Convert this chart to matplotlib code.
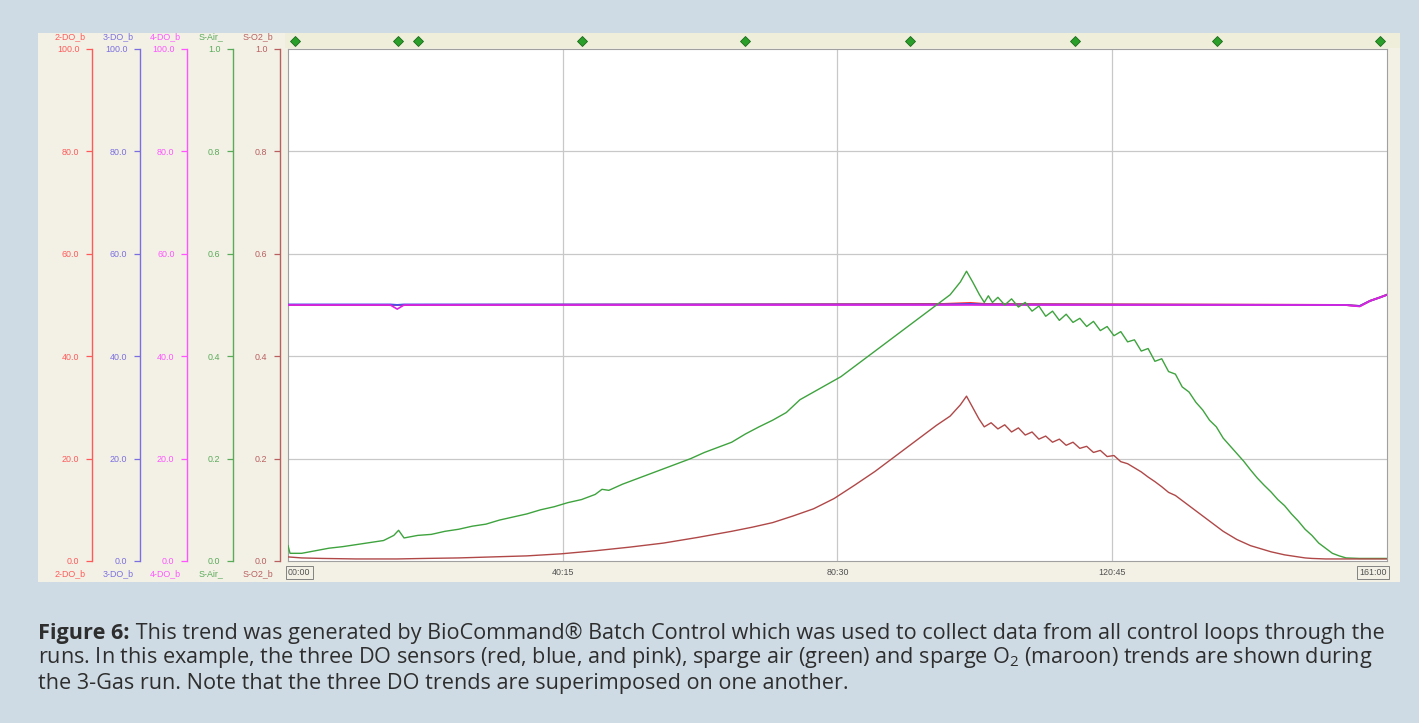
import matplotlib
matplotlib.use("Agg")
import matplotlib.pyplot as plt
from matplotlib.patches import Rectangle
import numpy as np

plt.rcParams['mathtext.fontset'] = 'custom'
plt.rcParams['mathtext.rm'] = 'Open Sans'

# Run time in minutes, sparge air (S-Air_) as a 0-1 fraction
air_t = [0.0, 0.3, 2, 4, 6, 8, 10, 12, 14, 15.5, 16.2, 17, 19, 21, 23, 25, 27, 29, 31, 33,
         35, 37, 39, 41, 43, 45, 46, 47, 49, 51, 53, 55, 57, 59, 61, 63, 65, 67, 69, 71,
         73, 75, 77, 79, 81, 83, 85, 87, 89, 91, 93, 95, 97, 98.5, 99.4, 100.3, 101.3, 102,
         102.6, 103.2, 104, 105, 106, 107, 108, 109, 110, 111, 112, 113, 114, 115, 116, 117,
         118, 119, 120, 121, 122, 123, 124, 125, 126, 127, 128, 129, 130, 131, 132, 133, 134,
         135, 136, 137, 138, 139, 140, 141, 142, 143, 144, 145, 146, 147, 148, 149, 150, 151,
         152, 153, 154, 155, 157, 161]
air_v = [0.03, 0.015, 0.015, 0.02, 0.025, 0.028, 0.032, 0.036, 0.04, 0.05, 0.06, 0.045, 0.05,
         0.052, 0.058, 0.062, 0.068, 0.072, 0.08, 0.086, 0.092, 0.1, 0.106, 0.114, 0.12, 0.13,
         0.14, 0.138, 0.15, 0.16, 0.17, 0.18, 0.19, 0.2, 0.212, 0.222, 0.232, 0.248, 0.262,
         0.275, 0.29, 0.315, 0.33, 0.345, 0.36, 0.38, 0.4, 0.42, 0.44, 0.46, 0.48, 0.5, 0.52,
         0.545, 0.566, 0.545, 0.52, 0.505, 0.518, 0.505, 0.515, 0.5, 0.512, 0.496, 0.505,
         0.488, 0.498, 0.478, 0.488, 0.47, 0.482, 0.466, 0.474, 0.458, 0.468, 0.45, 0.458,
         0.44, 0.448, 0.428, 0.432, 0.41, 0.415, 0.39, 0.395, 0.37, 0.365, 0.34, 0.33, 0.31,
         0.295, 0.275, 0.262, 0.24, 0.225, 0.21, 0.195, 0.178, 0.162, 0.148, 0.135, 0.12,
         0.108, 0.092, 0.078, 0.062, 0.05, 0.035, 0.025, 0.015, 0.01, 0.006, 0.005, 0.005]

# Sparge O2 (S-O2_b) as a 0-1 fraction
o2_t = [0, 2, 5, 10, 16, 20, 25, 30, 35, 40, 45, 50, 55, 60, 65, 68, 71, 74, 77, 80, 83, 86,
        89, 92, 95, 97, 98.5, 99.4, 100.3, 101.2, 102, 103, 104, 105, 106, 107, 108, 109, 110,
        111, 112, 113, 114, 115, 116, 117, 118, 119, 120, 121, 122, 123, 124, 125, 126, 127,
        128, 129, 130, 131, 132, 133, 134, 135, 136, 137, 138, 139, 140, 141, 142, 143, 144,
        145, 146, 147, 148, 149, 150, 152, 161]
o2_v = [0.008, 0.006, 0.005, 0.004, 0.004, 0.005, 0.006, 0.008, 0.01, 0.014, 0.02, 0.027,
        0.035, 0.046, 0.058, 0.066, 0.075, 0.088, 0.102, 0.122, 0.148, 0.175, 0.205, 0.235,
        0.265, 0.283, 0.305, 0.322, 0.3, 0.278, 0.262, 0.27, 0.258, 0.266, 0.252, 0.26, 0.246,
        0.252, 0.238, 0.244, 0.232, 0.238, 0.226, 0.232, 0.22, 0.224, 0.212, 0.216, 0.204,
        0.206, 0.194, 0.19, 0.182, 0.174, 0.164, 0.155, 0.145, 0.134, 0.128, 0.118, 0.108,
        0.098, 0.088, 0.078, 0.068, 0.058, 0.05, 0.042, 0.036, 0.03, 0.026, 0.022, 0.018,
        0.015, 0.012, 0.01, 0.008, 0.006, 0.005, 0.004, 0.004]

# The three DO probes, percent saturation
do_t = [0, 15, 16, 17, 96, 100, 102, 155, 157, 158.5, 160, 161]
do2_v = [50.0, 50.0, 50.0, 50.0, 50.2, 50.4, 50.2, 50.0, 49.8, 50.8, 51.5, 52.0]
do3_v = [50.1, 50.1, 50.0, 50.1, 50.1, 50.2, 50.1, 50.0, 49.8, 50.8, 51.5, 52.0]
do4_v = [50.0, 50.0, 49.2, 50.0, 50.0, 50.0, 50.0, 50.0, 49.7, 50.8, 51.5, 52.0]

# Batch event markers along the top strip
event_t = [1.0, 16.1, 19.0, 43.1, 66.9, 91.1, 115.3, 136.1, 160.0]

x_ticks = [0, 40.25, 80.5, 120.75, 161]
x_labels = ['00:00', '40:15', '80:30', '120:45', '161:00']

scales = [
    # name, line x (px), max, colour
    ('2-DO_b', 92, 100.0, '#ff5a5a'),
    ('3-DO_b', 140, 100.0, '#7b6fe0'),
    ('4-DO_b', 187, 100.0, '#ff55ff'),
    ('S-Air_', 233, 1.0, '#5aaa5a'),
    ('S-O2_b', 280, 1.0, '#b86060'),
]

W, H = 1419, 723
fig = plt.figure(figsize=(W / 100, H / 100), dpi=100)
fig.patch.set_facecolor('#cfdbe4')


def fx(px):
    return px / W


def fy(py):
    return 1 - py / H


# trend window background
fig.patches.append(Rectangle((fx(38), fy(582)), fx(1400) - fx(38), fy(33) - fy(582),
                             transform=fig.transFigure, facecolor='#f3f1e5',
                             edgecolor='none', zorder=-2))
fig.patches.append(Rectangle((fx(285), fy(48)), fx(1400) - fx(285), fy(33) - fy(48),
                             transform=fig.transFigure, facecolor='#efeedb',
                             edgecolor='none', zorder=-1))

top_px, bot_px = 49, 561
ax = fig.add_axes([fx(288), fy(bot_px), fx(1387) - fx(288), fy(top_px) - fy(bot_px)])
ax.set_xlim(0, 161)
ax.set_ylim(0, 1.0)
ax.set_facecolor('white')
for s in ax.spines.values():
    s.set_color('#a0a0a0')
    s.set_linewidth(0.8)
ax.set_xticks(x_ticks[1:-1])
ax.set_yticks([0.2, 0.4, 0.6, 0.8])
ax.grid(True, color='#c8c8c8', linewidth=0.9)
ax.tick_params(length=0, labelleft=False, labelbottom=False)

# DO trends on their own 0-100 scale
ax_do = ax.twinx()
ax_do.set_ylim(0, 100)
ax_do.axis('off')
ax_do.plot(do_t, do2_v, color='#ff3030', lw=1.4)
ax_do.plot(do_t, do3_v, color='#5050e8', lw=1.4)
ax_do.plot(do_t, do4_v, color='#e020e0', lw=1.2)

ax_g = ax.twinx()
ax_g.set_ylim(0, 1.0)
ax_g.axis('off')
ax_g.plot(air_t, air_v, color='#3ea33e', lw=1.0)
ax_g.plot(o2_t, o2_v, color='#b04848', lw=1.0)

# event diamonds above the plot
ax_g.plot(event_t, [1 + 8 / (bot_px - top_px)] * len(event_t),
          transform=ax_g.get_xaxis_transform(), clip_on=False, ls='none',
          marker='D', ms=5.5, mfc='#2aa02a', mec='#1a6a1a', mew=0.6)

# time labels under the plot
small = dict(family='Liberation Sans', fontsize=6.4, color='#505050')
boxed = dict(boxstyle='square,pad=0.25', fc='none', ec='#707070', lw=0.6)
for t, lab in zip(x_ticks, x_labels):
    tr = ax.get_xaxis_transform()
    if t == 0:
        ax.text(t, -0.022, lab, ha='left', va='center', transform=tr, bbox=boxed, **small)
    elif t == 161:
        ax.text(t, -0.022, lab, ha='right', va='center', transform=tr, bbox=boxed, **small)
    else:
        ax.text(t, -0.022, lab, ha='center', va='center', transform=tr, **small)

# stacked value scales on the left
for name, xpx, vmax, col in scales:
    sa = fig.add_axes([fx(xpx), fy(bot_px), 0.0001, fy(top_px) - fy(bot_px)])
    sa.set_ylim(0, vmax)
    sa.patch.set_visible(False)
    for side in ['top', 'right', 'bottom']:
        sa.spines[side].set_visible(False)
    sa.spines['left'].set_color(col)
    sa.spines['left'].set_linewidth(1.0)
    sa.set_xticks([])
    ticks = np.linspace(0, vmax, 6)
    sa.set_yticks(ticks)
    sa.set_yticklabels(['%.1f' % v for v in ticks])
    sa.tick_params(axis='y', direction='out', length=4, width=0.9, color=col,
                   labelcolor=col, labelsize=6.4, pad=5)
    for lab in sa.get_yticklabels():
        lab.set_family('Liberation Sans')
    fig.text(fx(xpx - 22), fy(37), name, ha='center', va='center', color=col,
             family='Liberation Sans', fontsize=6.4)
    fig.text(fx(xpx - 22), fy(574), name, ha='center', va='center', color=col,
             family='Liberation Sans', fontsize=6.4)

# caption
cap = dict(family='Open Sans', fontsize=15.6, color='#2e2e2e')
t1 = fig.text(fx(38), fy(634), 'Figure 6:', fontweight='bold', ha='left', va='center', **cap)
ax.annotate(' This trend was generated by BioCommand\u00ae Batch Control which was used to '
            'collect data from all control loops through the',
            xy=(1, 0), xycoords=t1, ha='left', va='bottom', annotation_clip=False, **cap)
fig.text(fx(38), fy(658), 'runs. In this example, the three DO sensors (red, blue, and pink), '
         'sparge air (green) and sparge O$_2$ (maroon) trends are shown during',
         ha='left', va='center', **cap)
fig.text(fx(38), fy(683), 'the 3-Gas run. Note that the three DO trends are superimposed '
         'on one another.', ha='left', va='center', **cap)

fig.savefig('out.png', dpi=100, facecolor=fig.get_facecolor())
